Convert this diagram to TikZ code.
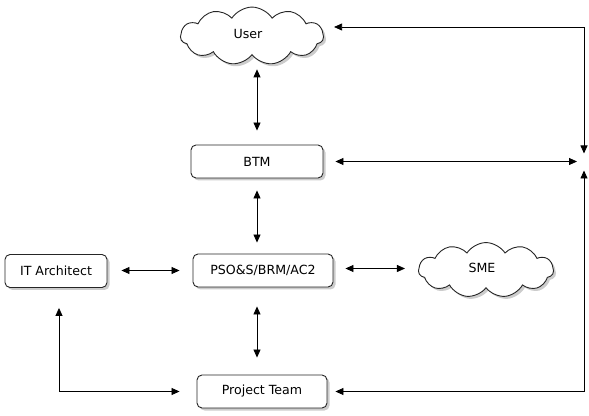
\documentclass[tikz,border=0pt]{standalone}
\usepackage{fontspec}
\setmainfont{DejaVu Sans}
\usetikzlibrary{shapes.symbols,shadows,arrows.meta}
\begin{document}
\begin{tikzpicture}[x=1pt,y=1pt,
  font=\fontsize{12.6}{15}\selectfont,
  shade/.style={drop shadow={shadow xshift=2.5pt,shadow yshift=-2.5pt,fill=black!40}},
  roundbox/.style={draw=black!85,line width=0.9pt,fill=white,rounded corners=5pt,
    minimum height=33pt,inner sep=0pt,shade},
  cloudbox/.style={cloud,cloud puffs=11,cloud puff arc=115,draw=black!85,line width=0.9pt,
    fill=white,inner sep=0pt,shade},
  link/.style={line width=0.8pt,{Triangle[length=8pt,width=7pt]}-{Triangle[length=8pt,width=7pt]}}
]
\useasboundingbox (0,0) rectangle (589,415);

\node[cloudbox,minimum width=143pt,minimum height=50pt] (user) at (252,379) {\raisebox{4pt}{User}\hspace*{8pt}};
\node[roundbox,minimum width=132pt] (btm) at (257,253.5) {BTM};
\node[roundbox,minimum width=140pt] (pso) at (263,144.5) {PSO\&S/BRM/AC2};
\node[roundbox,minimum width=102pt] (it) at (56,144) {IT Architect};
\node[cloudbox,minimum width=135pt,minimum height=45pt] (sme) at (486,145) {\raisebox{4pt}{SME}\hspace*{8pt}};
\node[roundbox,minimum width=130pt] (pt) at (262,23.5) {Project Team};

\coordinate (hub) at (584,253.5);
\coordinate (ru) at (584,388);
\coordinate (ld) at (59,23.5);

\draw[link,shorten <=14pt,shorten >=14pt] (btm.north |- user.south) -- (btm.north);
\draw[link,shorten <=12pt,shorten >=11pt] (btm.south) -- (btm.south |- pso.north);
\draw[link,shorten <=19pt,shorten >=17pt] (btm.south |- pso.south) -- (btm.south |- pt.north);
\draw[link,shorten <=14pt,shorten >=13pt] (it.east |- pso.west) -- (pso.west);
\draw[link,shorten <=12pt,shorten >=13pt] ([yshift=2pt]pso.east) -- ([yshift=2pt]pso.east -| sme.west);
\draw[link,shorten <=20pt,shorten >=17pt] (ld |- it.south) -- (ld) -- (pt.west);
\draw[link,shorten <=12pt,shorten >=7pt] (btm.east) -- (hub);
\draw[link,shorten <=10pt,shorten >=8pt] (user.east |- ru) -- (ru) -- (hub);
\draw[link,shorten <=8pt,shorten >=9pt] (pt.east) -- (pt.east -| hub) -- (hub);
\end{tikzpicture}
\end{document}
